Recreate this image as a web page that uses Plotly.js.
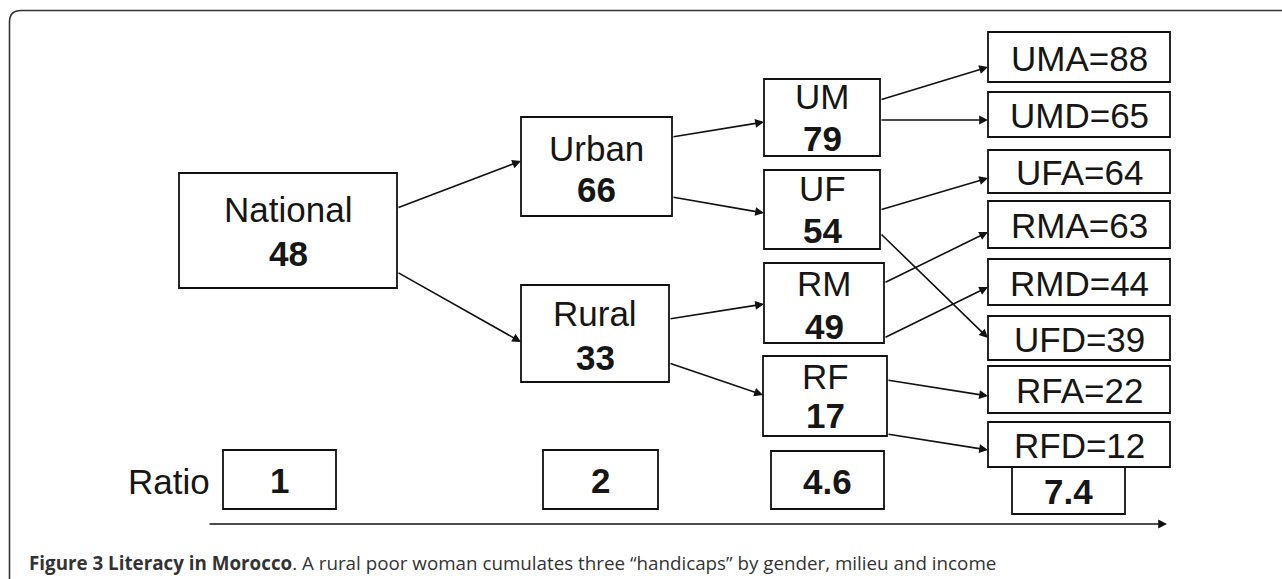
<!DOCTYPE html>
<html>
<head>
<meta charset="utf-8">
<script src="https://cdn.plot.ly/plotly-3.0.1.min.js"></script>
<style>
  html, body { margin: 0; padding: 0; background: #ffffff; }
  #chart { width: 1282px; height: 579px; }
</style>
</head>
<body>
<div id="chart"></div>
<script>
// ---------- DATA ----------
const nodeNames  = ['National', 'Urban', 'Rural', 'UM', 'UF', 'RM', 'RF'];
const nodeValues = [48, 66, 33, 79, 54, 49, 17];
const leafNames  = ['UMA', 'UMD', 'UFA', 'RMA', 'RMD', 'UFD', 'RFA', 'RFD'];
const leafValues = [88, 65, 64, 63, 44, 39, 22, 12];
const ratioLabel = 'Ratio';
const ratioValues = ['1', '2', '4.6', '7.4'];
const linkSources = ['National', 'National', 'Urban', 'Urban', 'Rural', 'Rural',
                     'UM', 'UM', 'UF', 'UF', 'RM', 'RM', 'RF', 'RF'];
const linkTargets = ['Urban', 'Rural', 'UM', 'UF', 'RM', 'RF',
                     'UMA', 'UMD', 'UFA', 'UFD', 'RMA', 'RMD', 'RFA', 'RFD'];
const captionBold = 'Figure 3 Literacy in Morocco';
const captionRest = '. A rural poor woman cumulates three \u201chandicaps\u201d by gender, milieu and income';

// ---------- GEOMETRY (diagram layout, in axis units = px) ----------
const nodeBox = {
  National: {x0: 179, x1: 397, y0: 173, y1: 288, ly: 209, vy: 253},
  Urban:    {x0: 521, x1: 672, y0: 117, y1: 216, ly: 148, vy: 189},
  Rural:    {x0: 521, x1: 669, y0: 285, y1: 382, ly: 313, vy: 357},
  UM:       {x0: 764, x1: 880, y0: 79,  y1: 156, ly: 96,  vy: 138},
  UF:       {x0: 764, x1: 880, y0: 170, y1: 249, ly: 188, vy: 230},
  RM:       {x0: 764, x1: 884, y0: 263, y1: 343, ly: 283, vy: 326},
  RF:       {x0: 763, x1: 887, y0: 356, y1: 436, ly: 376, vy: 415}
};
const leafX = [988, 1170];
const leafY = {
  UMA: [32, 82], UMD: [92, 137], UFA: [150, 193], RMA: [201, 248],
  RMD: [259, 305], UFD: [316, 360], RFA: [366, 413], RFD: [422, 467]
};
// start / end y for each link (same order as linkSources)
const linkYs = [[208, 161], [272, 342], [137, 122], [197, 213], [319, 304], [363, 395],
                [100, 67], [120, 120], [210, 178], [233, 338], [283, 232], [338, 287],
                [380, 396], [434, 450]];
const ratioBoxes = [[223, 336, 450, 509], [543, 658, 450, 509], [771, 884, 451, 509], [1012, 1125, 467, 514]];

// ---------- BUILD ----------
const BOX_FONT = 'Liberation Sans, Arial, sans-serif';
const FS = 35;
const shapes = [];
const annotations = [];

// outer frame (rounded corner, open to the right and bottom)
shapes.push({
  type: 'path', xref: 'x', yref: 'y',
  path: 'M 9.5 600 L 9.5 22 Q 9.5 10.5 21 10.5 L 1300 10.5',
  line: {color: '#333333', width: 1.6}
});

function rect(x0, x1, y0, y1) {
  shapes.push({type: 'rect', xref: 'x', yref: 'y', x0: x0, x1: x1, y0: y0, y1: y1,
               line: {color: '#111111', width: 1.8}, fillcolor: 'rgba(0,0,0,0)'});
}
function label(x, y, txt, bold) {
  annotations.push({x: x, y: y, xref: 'x', yref: 'y', showarrow: false,
    text: bold ? '<b>' + txt + '</b>' : txt,
    xanchor: 'center', yanchor: 'middle',
    font: {family: BOX_FONT, size: FS, color: '#161616'}});
}
function arrow(xs, ys, xe, ye) {
  annotations.push({x: xe, y: ye, ax: xs, ay: ys, xref: 'x', yref: 'y', axref: 'x', ayref: 'y',
    text: '', showarrow: true, arrowhead: 2, arrowsize: 1.1, arrowwidth: 1.6,
    arrowcolor: '#111111', standoff: 0, startstandoff: 0});
}

// inner nodes
nodeNames.forEach((n, i) => {
  const b = nodeBox[n];
  rect(b.x0, b.x1, b.y0, b.y1);
  const cx = (b.x0 + b.x1) / 2;
  label(cx, b.ly, n, false);
  label(cx, b.vy, String(nodeValues[i]), true);
});

// leaves
leafNames.forEach((n, i) => {
  const yy = leafY[n];
  rect(leafX[0], leafX[1], yy[0], yy[1]);
  label((leafX[0] + leafX[1]) / 2, (yy[0] + yy[1]) / 2 + 1, n + '=' + leafValues[i], false);
});

// links
linkSources.forEach((s, i) => {
  const t = linkTargets[i];
  const xs = nodeBox[s].x1;
  const xe = nodeBox[t] ? nodeBox[t].x0 : leafX[0];
  arrow(xs, linkYs[i][0], xe, linkYs[i][1]);
});

// ratio row
annotations.push({x: 169, y: 481, xref: 'x', yref: 'y', showarrow: false, text: ratioLabel,
  xanchor: 'center', yanchor: 'middle', font: {family: BOX_FONT, size: FS, color: '#161616'}});
ratioValues.forEach((v, i) => {
  const r = ratioBoxes[i];
  rect(r[0], r[1], r[2], r[3]);
  label((r[0] + r[1]) / 2, (r[2] + r[3]) / 2 + 1, v, true);
});

// progression axis arrow
arrow(208, 524, 1167, 524);

// caption
annotations.push({x: 27, y: 563, xref: 'x', yref: 'y', showarrow: false,
  text: '<b>' + captionBold + '</b>' + captionRest,
  xanchor: 'left', yanchor: 'middle',
  font: {family: 'Open Sans, sans-serif', size: 18.8, color: '#333333'}});

const layout = {
  width: 1282, height: 579,
  margin: {l: 0, r: 0, t: 0, b: 0},
  paper_bgcolor: '#ffffff', plot_bgcolor: '#ffffff',
  showlegend: false,
  xaxis: {range: [0, 1282], visible: false, fixedrange: true},
  yaxis: {range: [579, 0], visible: false, fixedrange: true},
  shapes: shapes,
  annotations: annotations
};

Plotly.newPlot('chart', [], layout, {displayModeBar: false, staticPlot: true});
</script>
</body>
</html>
